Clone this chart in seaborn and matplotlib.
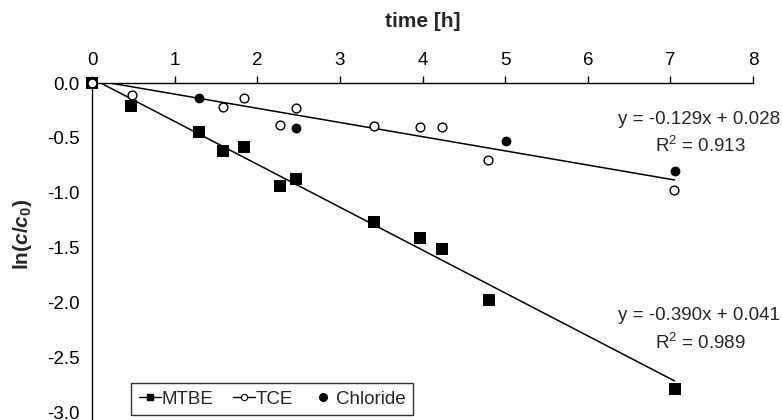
import matplotlib
matplotlib.use('Agg')
import matplotlib.pyplot as plt
from matplotlib.lines import Line2D
import numpy as np
import pandas as pd
import seaborn as sns

# data
mtbe_t = [0.0, 0.47, 1.30, 1.58, 1.84, 2.28, 2.47, 3.41, 3.97, 4.24, 4.80, 7.05]
mtbe_y = [0.0, -0.21, -0.445, -0.615, -0.58, -0.94, -0.87, -1.26, -1.41, -1.51, -1.97, -2.78]

tce_t = [0.0, 0.48, 1.58, 1.84, 2.28, 2.47, 3.41, 3.97, 4.24, 4.79, 7.04]
tce_y = [0.0, -0.11, -0.215, -0.14, -0.385, -0.225, -0.395, -0.40, -0.40, -0.70, -0.97]

chl_t = [0.0, 1.30, 2.47, 5.01, 7.05]
chl_y = [0.0, -0.14, -0.405, -0.53, -0.80]

# linear fits as printed on the chart
mtbe_fit = (-0.390, 0.041, 0.989)
tce_fit = (-0.129, 0.028, 0.913)
fit_range = [0.0, 7.05]

sns.set_style('white')
plt.rcParams['font.family'] = ['Liberation Sans', 'DejaVu Sans']
plt.rcParams['mathtext.fontset'] = 'custom'
plt.rcParams['mathtext.it'] = 'Liberation Sans:italic:bold'
plt.rcParams['mathtext.bf'] = 'Liberation Sans:bold'
plt.rcParams['mathtext.rm'] = 'Liberation Sans'

FS = 13.5

fig = plt.figure(figsize=(7.82, 4.2), dpi=100)
ax = fig.add_axes([92/782, 0.0, 661/782, 337/420])

def fit_df(fit):
    k, b, _ = fit
    xs = np.array(fit_range)
    return pd.DataFrame({'t': xs, 'y': k*xs + b})

sns.lineplot(data=fit_df(mtbe_fit), x='t', y='y', ax=ax, color='black', lw=1.1)
sns.lineplot(data=fit_df(tce_fit), x='t', y='y', ax=ax, color='black', lw=1.1)

sns.scatterplot(x=mtbe_t, y=mtbe_y, ax=ax, marker='s', s=70, color='black',
                edgecolor='black', linewidth=0, clip_on=False, zorder=3)
sns.scatterplot(x=chl_t, y=chl_y, ax=ax, marker='o', s=50, color='black',
                edgecolor='black', linewidth=0, clip_on=False, zorder=3)
sns.scatterplot(x=tce_t, y=tce_y, ax=ax, marker='o', s=40, color='white',
                edgecolor='black', linewidth=1.0, clip_on=False, zorder=4)

ax.set_xlim(0, 8)
ax.set_ylim(-3.064, 0)
ax.set_xticks(range(0, 9))
ax.set_yticks([0.0, -0.5, -1.0, -1.5, -2.0, -2.5, -3.0])
ax.set_yticklabels(['0.0', '-0.5', '-1.0', '-1.5', '-2.0', '-2.5', '-3.0'])
ax.xaxis.tick_top()
ax.xaxis.set_label_position('top')
ax.tick_params(axis='both', direction='out', length=5, width=1, colors='black',
               labelsize=FS, pad=4)
ax.tick_params(axis='x', pad=5)
for side in ['right', 'bottom']:
    ax.spines[side].set_visible(False)
for side in ['top', 'left']:
    ax.spines[side].set_color('black')
    ax.spines[side].set_linewidth(1)

ax.set_xlabel('time [h]', fontsize=15, fontweight='bold', labelpad=18)
ax.set_ylabel(r'$\mathbf{ln(}\mathit{c}\mathbf{/}\mathit{c}_{\mathbf{0}}\mathbf{)}$',
              fontsize=15)
ax.yaxis.set_label_coords(-0.088, (420 - 234)/337)

def fit_text(fit, y_eq, y_r2):
    k, b, r2 = fit
    ax.text(780/782, 1 - y_eq/420, f'y = {k:.3f}x + {b:.3f}', transform=fig.transFigure,
            ha='right', va='center', fontsize=FS)
    ax.text(700/782, 1 - y_r2/420, f'R$^2$ = {r2:.3f}', transform=fig.transFigure,
            ha='center', va='center', fontsize=FS)

fit_text(tce_fit, 120, 146)
fit_text(mtbe_fit, 316, 343)

handles = [
    Line2D([], [], color='black', lw=1, marker='s', markersize=5),
    Line2D([], [], color='black', lw=1, marker='o', markersize=4.5,
           markerfacecolor='white', markeredgewidth=0.8),
    Line2D([], [], color='black', lw=0, marker='o', markersize=5.5),
]
leg = ax.legend(handles, ['MTBE', 'TCE', 'Chloride'], ncol=3, loc='upper left',
                bbox_to_anchor=(39/661, 37/337), borderaxespad=0, frameon=True,
                fancybox=False, edgecolor='black', fontsize=FS, handlelength=1.2,
                handletextpad=0.05, columnspacing=1.0, borderpad=0.4)
leg.get_frame().set_linewidth(1)
leg.set_clip_on(False)

fig.savefig('out.png', dpi=100, facecolor='white')
